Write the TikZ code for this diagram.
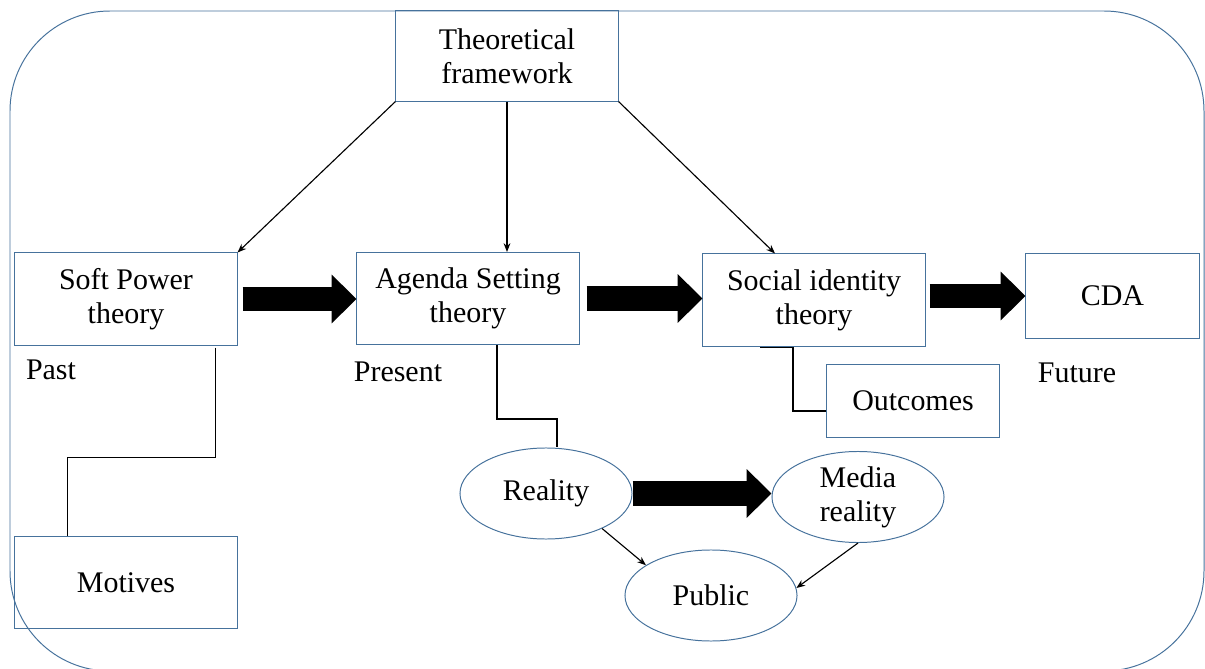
\documentclass[tikz,border=0pt]{standalone}
\usepackage{fontspec}
\setmainfont{Liberation Serif}
\usetikzlibrary{arrows.meta,shapes.geometric,calc}
\definecolor{boxblue}{RGB}{70,114,156}

\begin{document}
\begin{tikzpicture}
	[x=0.025cm,y=-0.025cm,
	 every node/.style={font=\fontsize{21.3}{24.4}\selectfont,align=center},
	 box/.style={draw=boxblue,line width=0.7pt,rectangle,inner sep=0pt,minimum width=5.55cm,minimum height=2.3cm},
	 oval/.style={draw=boxblue,line width=0.7pt,ellipse,inner sep=0pt,minimum width=4.3cm,minimum height=2.275cm},
	 edge/.style={-{Stealth[length=0.22cm,width=0.17cm]},line width=0.8pt},
	 link/.style={line width=0.9pt},
	 bigedge/.style={line width=0.6cm,-{Triangle[length=0.62cm,width=1.22cm,line width=0pt]}}]
	\useasboundingbox (0,0) rectangle (1205,669);
	\draw[draw=boxblue,line width=0.7pt,rounded corners=2.5cm] (10,11) rectangle (1204,671);

	\node[box,minimum height=2.25cm] (tf) at (507,56) {Theoretical\\framework};
	\node[box] (soft) at (126,299) {Soft Power\\theory};
	\node[box] (agenda) at (468,298.5) {Agenda Setting\\theory};
	\node[box] (social) at (814,300) {Social identity\\theory};
	\node[box,minimum width=4.325cm,minimum height=2.1cm] (cda) at (1112.5,296) {CDA};
	\node[box,minimum width=4.3cm,minimum height=1.8cm] (outcomes) at (913,401) {Outcomes};
	\node[box] (motives) at (126,582.5) {Motives};
	\node[oval] (reality) at (546,493.5) {Reality};
	\node[oval] (media) at (858,497) {Media\\reality};
	\node[oval] (public) at (711,595.5) {Public};

	\node (past) at (51,370) {Past};
	\node (present) at (398,372) {Present};
	\node (future) at (1077,373) {Future};

	\draw[edge] (tf.south west) -- (soft.north east);
	\draw[edge] (tf.south) -- (tf.south |- agenda.north);
	\draw[edge] (tf.south east) -- ($(social.north)+(-39,0)$);

	\draw[bigedge,shorten <=0.125cm] (soft.east) -- (soft.east -| agenda.west);
	\draw[bigedge,shorten <=0.175cm] (agenda.east) -- (agenda.east -| social.west);
	\draw[bigedge,shorten <=0.1cm] (cda.west -| social.east) -- (cda.west);
	\draw[bigedge] (reality.east) -- (reality.east -| media.west);

	\draw[link] ($(soft.south east)+(-22,2)$) -- ++(0,110) -| ($(motives.north west)+(53,0)$);
	\draw[link] ($(agenda.south)+(29,0)$) -- ++(0,74) -| ($(reality.north)+(11,0)$);
	\draw[link] ($(social.south)+(-54,1)$) -- ++(33,0) |- ($(outcomes.west)+(0,10)$);

	\draw[edge] (reality.-32) -- (public.155);
	\draw[edge] (media.south) -- (public.5);
\end{tikzpicture}
\end{document}
